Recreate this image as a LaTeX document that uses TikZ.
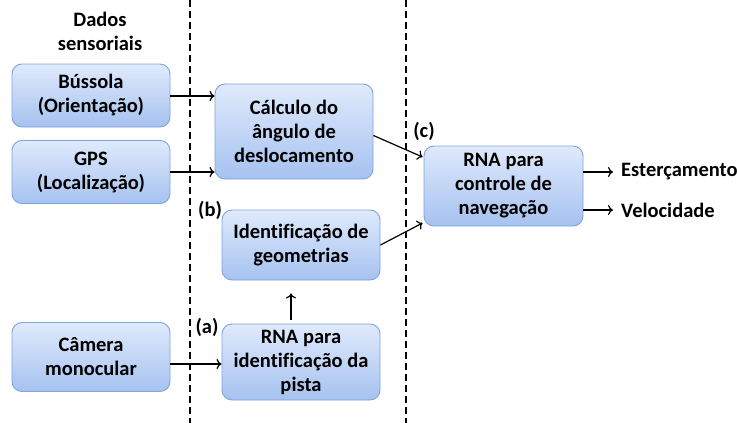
\documentclass[tikz,border=0pt]{standalone}
\usepackage{fontspec}
\setmainfont{Carlito}[Ligatures=NoCommon]
\usetikzlibrary{arrows.meta}
\definecolor{boxtop}{HTML}{DFEAFC}
\definecolor{boxbot}{HTML}{A6C2F0}
\definecolor{boxline}{HTML}{7FA3DC}
\tikzset{
  blk/.style={draw=boxline, line width=0.9pt, rounded corners=10pt, top color=boxtop, bottom color=boxbot,
    align=center, font=\fontsize{20.5}{24}\selectfont\bfseries, inner sep=1pt},
  lbl/.style={font=\fontsize{20.5}{24}\selectfont\bfseries, align=center, inner sep=1pt},
  conn/.style={line width=1.2pt, -{To[length=5pt,width=10pt]}},
  sep/.style={line width=1.2pt, dash pattern=on 7pt off 4pt}
}
\begin{document}
\begin{tikzpicture}[x=1pt,y=-1pt]
\useasboundingbox (0,0) rectangle (737,423);
% separators
\coordinate (s1t) at (190,0); \coordinate (s1b) at (190,423);
\coordinate (s2t) at (406,0); \coordinate (s2b) at (406,423);
\draw[sep] (s1t) -- (s1b);
\draw[sep] (s2t) -- (s2b);
% nodes
\node[lbl] (dados) at (100,31) {Dados\\sensoriais};
\node[blk, minimum width=158pt, minimum height=63pt] (bus) at (91,95.5) {Bússola\\(Orientação)};
\node[blk, minimum width=158pt, minimum height=63pt] (gps) at (91,172) {GPS\\(Localização)};
\node[blk, minimum width=158pt, minimum height=69pt] (cam) at (91,357) {Câmera\\monocular};
\node[blk, minimum width=158pt, minimum height=95pt] (calc) at (294,131.5) {Cálculo do\\ângulo de\\deslocamento};
\node[blk, minimum width=158pt, minimum height=70pt] (geo) at (301,245) {Identificação de\\geometrias};
\node[blk, minimum width=158pt, minimum height=76pt] (pista) at (301,362) {RNA para\\identificação da\\pista};
\node[blk, minimum width=159pt, minimum height=80pt] (nav) at (503.5,186) {RNA para\\controle de\\navegação};
\node[lbl, anchor=west] (est) at (620,172) {Esterçamento};
\node[lbl, anchor=west] (vel) at (620,210) {Velocidade};
\node[lbl] (la) at (207,327) {(a)};
\node[lbl] (lb) at (210,210) {(b)};
\node[lbl] (lc) at (424,131) {(c)};
% connectors
\draw[conn] (bus.east |- 0,96) -- (calc.west |- 0,96);
\draw[conn] (gps.east |- 0,172) -- (calc.west |- 0,172);
\draw[conn] (cam.east |- 0,364) -- (pista.west |- 0,364);
\draw[conn] ([yshift=4pt]pista.north -| 291,0) -- ([yshift=-13pt]geo.south -| 291,0);
\draw[conn] ([yshift=-4pt]calc.east) -- ([xshift=-1pt,yshift=29pt]nav.west);
\draw[conn] (geo.east) -- ([xshift=-1pt,yshift=-37pt]nav.west);
\draw[conn] (nav.east |- est.west) -- ([xshift=-7pt]est.west);
\draw[conn] (nav.east |- vel.west) -- ([xshift=-7pt]vel.west);
\end{tikzpicture}
\end{document}
